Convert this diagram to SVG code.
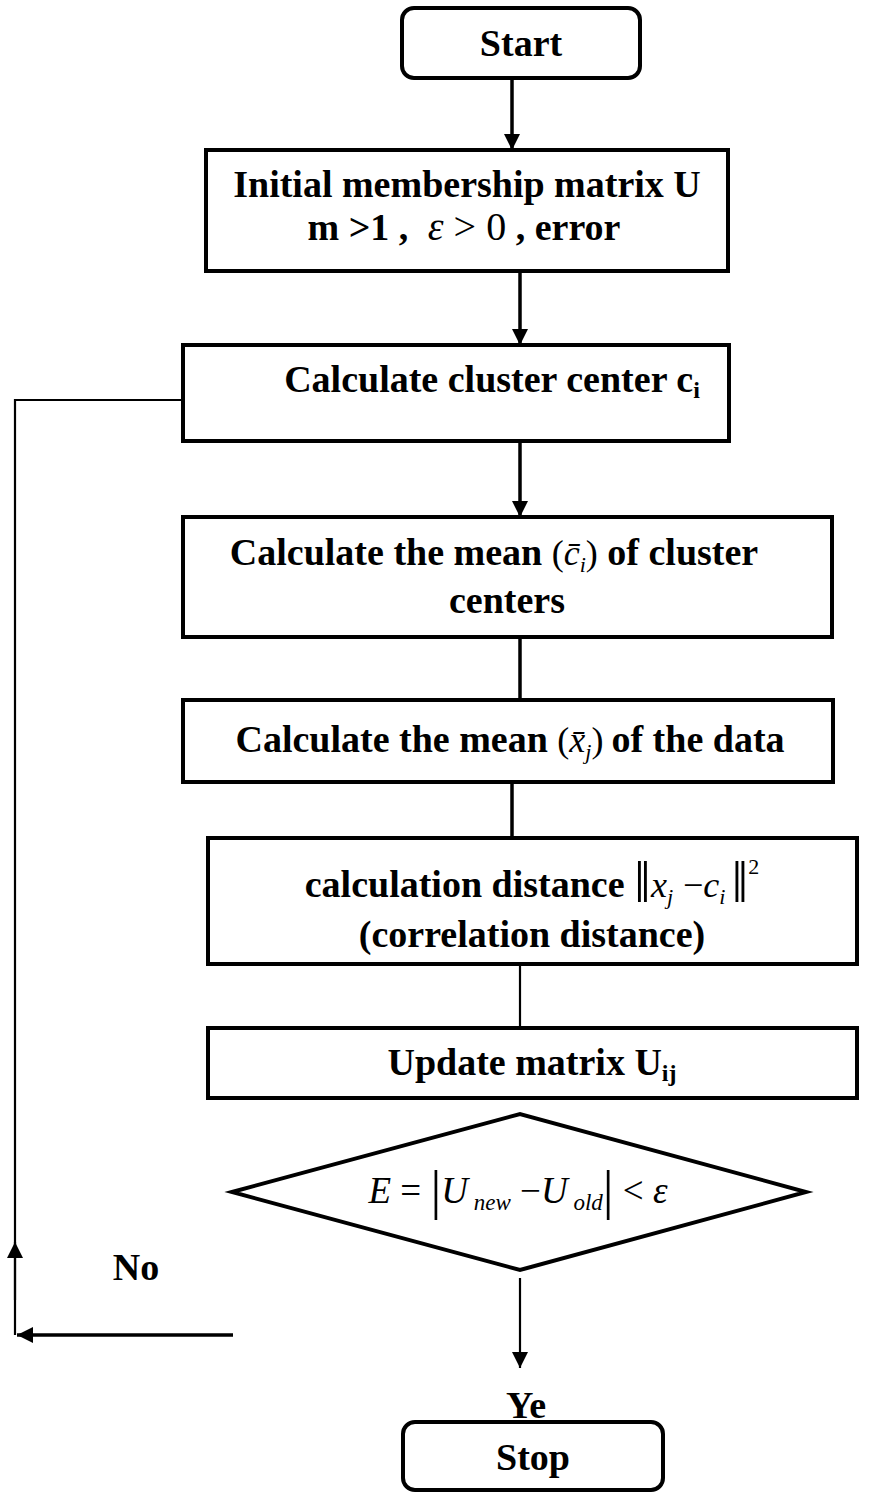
<svg xmlns="http://www.w3.org/2000/svg" width="872" height="1493" viewBox="0 0 872 1493">
<defs>
<style>
.box{fill:#fff;stroke:#000;stroke-width:4}
.t{font-family:"Liberation Serif","Times New Roman","DejaVu Serif",serif;font-weight:bold;font-size:38px;fill:#000;text-anchor:middle}
.m{font-weight:normal;font-style:italic}
.n{font-weight:normal}
.c{stroke:#000;stroke-width:3.5;fill:none}
.thin{stroke:#000;stroke-width:2.2;fill:none}
</style>
<marker id="ah" markerUnits="userSpaceOnUse" markerWidth="16" markerHeight="18" viewBox="0 0 16 18" refX="16" refY="9" orient="auto">
<path d="M0,1 L16,9 L0,17 Z" fill="#000"/>
</marker>
</defs>
<rect width="872" height="1493" fill="#fff"/>
<g id="connectors">
<line class="c" x1="512" y1="78" x2="512" y2="150" marker-end="url(#ah)"/>
<line class="c" x1="520" y1="271" x2="520" y2="345" marker-end="url(#ah)"/>
<line class="c" x1="520" y1="441" x2="520" y2="517" marker-end="url(#ah)"/>
<line class="c" x1="520" y1="637" x2="520" y2="700"/>
<line class="c" x1="512" y1="733" x2="512" y2="838"/>
<line class="thin" x1="520" y1="964" x2="520" y2="1028"/>
<line class="thin" x1="520" y1="1278" x2="520" y2="1368" marker-end="url(#ah)"/>
<polyline class="thin" points="183,400 15,400 15,1335"/>
<line class="thin" x1="15" y1="1300" x2="15" y2="1242" marker-end="url(#ah)"/>
<line class="c" x1="233" y1="1335" x2="17" y2="1335" marker-end="url(#ah)"/>
</g>
<g id="start">
<rect class="box" x="402" y="8" width="238" height="70" rx="12"/>
<text class="t" x="521" y="56">Start</text>
</g>
<g id="init">
<rect class="box" x="206" y="150" width="522" height="121"/>
<text class="t" x="467" y="197">Initial membership matrix U</text>
<text class="t" x="464" y="240" font-size="40">m &gt;1 , <tspan class="m" font-size="40" dx="10">ε</tspan><tspan class="n" font-size="40" dx="10">&gt;</tspan><tspan class="n" font-size="40" dx="10">0</tspan> , error</text>
</g>
<g id="center">
<rect class="box" x="183" y="345" width="546" height="96"/>
<text class="t" x="492" y="392" font-size="37">Calculate cluster center c<tspan font-size="24" dy="6">i</tspan></text>
</g>
<g id="meanc">
<rect class="box" x="183" y="517" width="649" height="120"/>
<text class="t" x="494" y="565" font-size="39">Calculate the mean <tspan class="n" font-size="36">(</tspan><tspan class="m" font-size="36">c̄</tspan><tspan class="m" font-size="22" dy="7">i</tspan><tspan class="n" font-size="36" dy="-7">)</tspan> of cluster</text>
<text class="t" x="507" y="613" font-size="39">centers</text>
</g>
<g id="meanx">
<rect class="box" x="183" y="700" width="650" height="82"/>
<text class="t" x="510" y="752" font-size="40">Calculate the mean <tspan class="n" font-size="36">(</tspan><tspan class="m" font-size="36">x̄</tspan><tspan class="m" font-size="22" dy="7">j</tspan><tspan class="n" font-size="36" dy="-7">)</tspan><tspan dx="8">of the data</tspan></text>
</g>
<g id="distance">
<rect class="box" x="208" y="838" width="649" height="126"/>
<text class="t" x="532" y="897" font-size="40">calculation distance <tspan class="n" font-size="60" dy="5">‖</tspan><tspan class="m" font-size="36" dy="-5">x</tspan><tspan class="m" font-size="22" dy="7">j</tspan><tspan class="n" font-size="36" dy="-7" dx="10">−</tspan><tspan class="m" font-size="36">c</tspan><tspan class="m" font-size="22" dy="7">i</tspan><tspan class="n" font-size="60" dy="-2" dx="6">‖</tspan><tspan class="n" font-size="22" dy="-28">2</tspan></text>
<text class="t" x="532" y="947" font-size="42">(correlation distance)</text>
</g>
<g id="update">
<rect class="box" x="208" y="1028" width="649" height="70"/>
<text class="t" x="532" y="1075">Update matrix U<tspan font-size="24" dy="6">ij</tspan></text>
</g>
<g id="decision">
<polygon class="box" points="232,1192 520,1114 806,1192 520,1270"/>
<text class="t" x="518" y="1203" style="font-weight:normal;font-style:italic;font-size:37px">E <tspan font-style="normal">= </tspan><tspan font-style="normal" font-size="54" dy="5">|</tspan><tspan dy="-5">U</tspan><tspan font-size="23" dy="7"> new</tspan><tspan font-style="normal" dy="-7"> −</tspan>U<tspan font-size="23" dy="7"> old</tspan><tspan font-style="normal" font-size="54" dy="-2">|</tspan><tspan font-style="normal" dy="-5"> &lt; </tspan>ε</text>
</g>
<g id="labels">
<text class="t" x="136" y="1280">No</text>
<text class="t" x="526" y="1418">Ye</text>
</g>
<g id="stop">
<rect class="box" x="403" y="1422" width="260" height="68" rx="12"/>
<text class="t" x="533" y="1470">Stop</text>
</g>
</svg>
